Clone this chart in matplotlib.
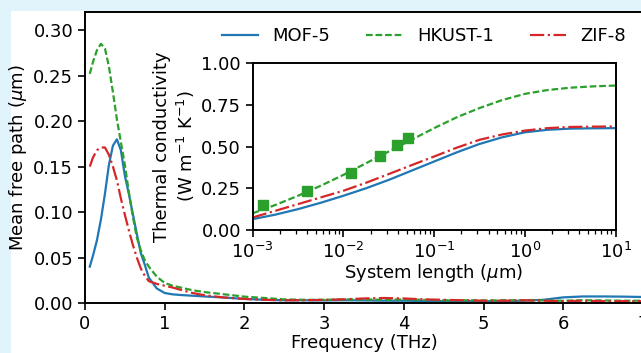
import numpy as np
import matplotlib
matplotlib.use('Agg')
import matplotlib.pyplot as plt
from matplotlib.patches import Rectangle

plt.rcParams.update({'font.size': 13,
                     'axes.linewidth': 1.4,
                     'xtick.major.width': 1.2, 'ytick.major.width': 1.2,
                     'xtick.minor.width': 0.9, 'ytick.minor.width': 0.9,
                     'xtick.major.size': 5, 'ytick.major.size': 5,
                     'xtick.minor.size': 3, 'ytick.minor.size': 3})

# mean free path vs frequency
freq = [0.06, 0.10, 0.15, 0.20, 0.25, 0.30, 0.35, 0.40, 0.45, 0.50, 0.55, 0.60,
        0.65, 0.70, 0.75, 0.80, 0.90, 1.0, 1.1, 1.2, 1.35, 1.5, 1.75, 2.0, 2.25,
        2.5, 2.75, 3.0, 3.25, 3.5, 3.75, 4.0, 4.25, 4.5, 4.75, 5.0, 5.25, 5.5,
        5.75, 6.0, 6.25, 6.5, 6.75, 7.0]
mfp_mof5 = [0.040, 0.052, 0.069, 0.092, 0.120, 0.152, 0.173, 0.180, 0.168, 0.140,
            0.120, 0.098, 0.076, 0.055, 0.042, 0.028, 0.016, 0.011, 0.0095, 0.0088,
            0.008, 0.0072, 0.006, 0.0045, 0.0035, 0.003, 0.003, 0.0028, 0.003,
            0.0028, 0.0025, 0.0025, 0.0022, 0.002, 0.002, 0.002, 0.002, 0.0025,
            0.0035, 0.0062, 0.0072, 0.0072, 0.0070, 0.0066]
mfp_hkust = [0.252, 0.265, 0.278, 0.285, 0.280, 0.260, 0.232, 0.202, 0.177, 0.152,
             0.122, 0.095, 0.072, 0.058, 0.047, 0.040, 0.029, 0.022, 0.019, 0.017,
             0.014, 0.012, 0.0095, 0.007, 0.0055, 0.004, 0.0035, 0.0035, 0.004,
             0.004, 0.0035, 0.004, 0.0035, 0.003, 0.003, 0.0028, 0.003, 0.003,
             0.0028, 0.0025, 0.003, 0.0028, 0.0025, 0.0025]
mfp_zif8 = [0.150, 0.160, 0.168, 0.171, 0.171, 0.163, 0.150, 0.135, 0.115, 0.097,
            0.080, 0.064, 0.050, 0.038, 0.030, 0.024, 0.021, 0.019, 0.017, 0.0145,
            0.011, 0.0085, 0.006, 0.0045, 0.0035, 0.003, 0.003, 0.0035, 0.004,
            0.005, 0.0055, 0.005, 0.004, 0.0035, 0.003, 0.0025, 0.0025, 0.003,
            0.0025, 0.002, 0.0025, 0.002, 0.002, 0.002]

# cumulative thermal conductivity vs system length (inset)
length = [1e-3, 1.778e-3, 3.162e-3, 5.623e-3, 1e-2, 1.778e-2, 3.162e-2, 5.623e-2,
          1e-1, 1.778e-1, 3.162e-1, 5.623e-1, 1.0, 1.778, 3.162, 5.623, 10.0]
k_mof5 = [0.065, 0.092, 0.125, 0.163, 0.205, 0.25, 0.30, 0.355, 0.41, 0.465,
          0.515, 0.555, 0.585, 0.600, 0.607, 0.609, 0.61]
k_zif8 = [0.075, 0.115, 0.155, 0.195, 0.235, 0.283, 0.335, 0.388, 0.44, 0.493,
          0.54, 0.572, 0.595, 0.610, 0.617, 0.619, 0.62]
k_hkust = [0.10, 0.15, 0.205, 0.265, 0.33, 0.40, 0.47, 0.54, 0.61, 0.675,
           0.73, 0.778, 0.815, 0.838, 0.852, 0.860, 0.865]
sq_len = [1.31e-3, 4.0e-3, 1.2e-2, 2.55e-2, 3.9e-2, 5.2e-2]
sq_k = [0.148, 0.233, 0.342, 0.441, 0.508, 0.549]

W, H = 641, 353
fig = plt.figure(figsize=(W/100, H/100), dpi=100, facecolor='#e1f3fb')
fig.add_artist(Rectangle((11/W, 0), 1, 1 - 11/H, transform=fig.transFigure,
                         facecolor='white', edgecolor='none', zorder=0))

lw = 1.6
dash = (3.0, 1.3)

ax = fig.add_axes([85/W, 1 - 303/H, (643-85)/W, (303-12)/H])
l1, = ax.plot(freq, mfp_mof5, '-', color='tab:blue', lw=lw, label='MOF-5')
l2, = ax.plot(freq, mfp_hkust, '--', dashes=dash, color='tab:green', lw=lw, label='HKUST-1')
l3, = ax.plot(freq, mfp_zif8, '-.', color='tab:red', lw=lw, label='ZIF-8')
ax.set_xlim(0, 7)
ax.set_ylim(0, 0.32)
ax.set_xticks(range(8))
ax.set_yticks(np.arange(0, 0.31, 0.05))
ax.yaxis.set_major_formatter(matplotlib.ticker.FormatStrFormatter('%.2f'))
ax.set_xlabel('Frequency (THz)', labelpad=1)
ax.set_ylabel(r'Mean free path ($\mu$m)', labelpad=3)

fig.legend(handles=[l1, l2, l3], loc='center', ncol=3, frameon=False,
           bbox_to_anchor=(424/W, 1 - 36/H))

ins = fig.add_axes([252.7/W, 1 - 230/H, 362.8/W, 167/H])
ins.plot(length, k_mof5, '-', color='tab:blue', lw=lw)
ins.plot(length, k_hkust, '--', dashes=dash, color='tab:green', lw=lw)
ins.plot(length, k_zif8, '-.', color='tab:red', lw=lw)
ins.plot(sq_len, sq_k, 's', color='tab:green', ms=6.5, ls='none')
ins.set_xscale('log')
ins.set_xlim(1e-3, 10)
ins.set_ylim(0, 1.0)
ins.set_yticks([0, 0.25, 0.5, 0.75, 1.0])
ins.yaxis.set_major_formatter(matplotlib.ticker.FormatStrFormatter('%.2f'))
ins.set_xlabel(r'System length ($\mu$m)', labelpad=0)
ins.set_ylabel('Thermal conductivity\n(W m$^{-1}$ K$^{-1}$)', labelpad=3)

fig.savefig('out.png', dpi=100, facecolor=fig.get_facecolor())
